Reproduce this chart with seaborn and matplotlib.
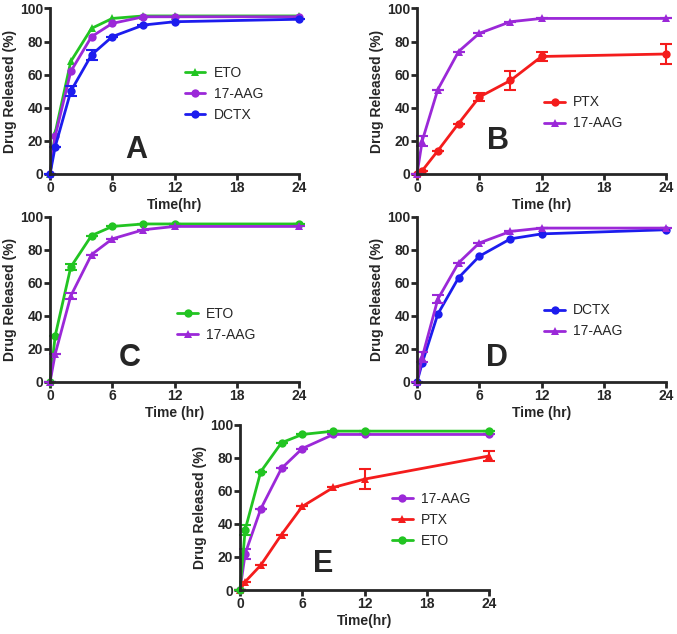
import matplotlib
matplotlib.use("Agg")
import matplotlib.pyplot as plt
import seaborn as sns

# --- DATA ---
TIME = [0, 0.5, 2, 4, 6, 9, 12, 24]

# panel A
A_ETO = [0, 25, 68, 88, 94, 95.5, 95.5, 95.5]
A_AAG = [0, 23, 62, 83, 91, 95, 95, 95]
A_DCTX = [0, 16.5, 50, 72, 83, 90, 92, 93.5]
A_DCTX_ERR = [0, 0, 3, 3, 0, 0, 0, 0]

# panel B
B_PTX = [0, 2, 14, 30.5, 46.5, 56.5, 71, 72.5]
B_PTX_ERR = [0, 0, 0, 0, 2.5, 6, 2.5, 6]
B_AAG = [0, 20, 51, 74, 85, 92, 94, 94]
B_AAG_ERR = [0, 3, 0, 0, 0, 0, 0, 0]

# panel C
C_ETO = [0, 28, 69.5, 88.5, 94, 95.5, 95.5, 95.5]
C_ETO_ERR = [0, 0, 2, 0, 0, 0, 0, 0]
C_AAG = [0, 17, 52, 77, 86.5, 92, 94, 94]
C_AAG_ERR = [0, 0, 2, 0, 0, 0, 0, 0]

# panel D
D_DCTX = [0, 11.5, 41, 63, 76, 86.5, 89.5, 92]
D_AAG = [0, 15, 50, 72, 84, 91, 93, 93]
D_AAG_ERR = [0, 3, 2.5, 0, 0, 0, 0, 0]

# panel E
E_AAG = [0, 22, 49, 73.5, 85.5, 94, 94, 94]
E_AAG_ERR = [0, 3, 0, 0, 0, 0, 0, 0]
E_PTX = [0, 5, 15, 33.5, 50.5, 62, 67, 81]
E_PTX_ERR = [0, 0, 0, 0, 0, 0, 6, 3]
E_ETO = [0, 36.5, 71.5, 89, 94, 96, 96, 96]
E_ETO_ERR = [0, 3, 0, 0, 0, 0, 0, 0]

GREEN = "#22c422"
PURPLE = "#9b28d8"
BLUE = "#1c1cee"
RED = "#f41c1c"

sns.set_style("ticks")
plt.rcParams['font.family'] = ['Liberation Sans', 'DejaVu Sans']
plt.rcParams['font.weight'] = 'bold'

fig = plt.figure(figsize=(6.77, 6.34), dpi=100)

W, H = 0.368, 0.261
panels = {
    "A": [0.0739, 0.7256, W, H],
    "B": [0.616, 0.7256, W, H],
    "C": [0.0739, 0.3975, W, H],
    "D": [0.616, 0.3975, W, H],
    "E": [0.3545, 0.0694, W, H],
}


def draw(ax, series, xlabel, letter, letter_pos, leg_pos):
    for name, vals, err, color, marker in series:
        sns.lineplot(x=TIME, y=vals, ax=ax, color=color, marker=marker,
                     markersize=6, linewidth=2, markeredgewidth=0,
                     label=name, clip_on=False)
        if err is not None:
            ax.errorbar(TIME, vals, yerr=err, fmt="none", ecolor=color,
                        elinewidth=1.5, capsize=4, capthick=1.5, clip_on=False)
    ax.set_xlim(0, 24)
    ax.set_ylim(0, 100)
    ax.set_xticks([0, 6, 12, 18, 24])
    ax.set_yticks([0, 20, 40, 60, 80, 100])
    ax.set_xlabel(xlabel, fontsize=10, fontweight="bold", labelpad=2)
    ax.set_ylabel("Drug Released (%)", fontsize=10, fontweight="bold", labelpad=2)
    ax.tick_params(width=2, length=4, labelsize=10, pad=1)
    for lab in ax.get_xticklabels() + ax.get_yticklabels():
        lab.set_fontweight("bold")
    sns.despine(ax=ax)
    for s in ["left", "bottom"]:
        ax.spines[s].set_linewidth(2)
    ax.text(letter_pos[0], letter_pos[1], letter, transform=ax.transAxes,
            fontsize=22, fontweight="bold", ha="center", va="center")
    ax.legend(loc="upper left", bbox_to_anchor=leg_pos, frameon=False,
              handlelength=1.5, handletextpad=0.6, labelspacing=0.5,
              prop={"weight": "normal", "size": 10})


ax = fig.add_axes(panels["A"])
draw(ax, [("ETO", A_ETO, None, GREEN, "^"),
          ("17-AAG", A_AAG, None, PURPLE, "o"),
          ("DCTX", A_DCTX, A_DCTX_ERR, BLUE, "o")],
     "Time(hr)", "A", (0.345, 0.145), (0.49, 0.73))

ax = fig.add_axes(panels["B"])
draw(ax, [("PTX", B_PTX, B_PTX_ERR, RED, "o"),
          ("17-AAG", B_AAG, B_AAG_ERR, PURPLE, "^")],
     "Time (hr)", "B", (0.325, 0.2), (0.46, 0.55))

ax = fig.add_axes(panels["C"])
draw(ax, [("ETO", C_ETO, C_ETO_ERR, GREEN, "o"),
          ("17-AAG", C_AAG, C_AAG_ERR, PURPLE, "^")],
     "Time (hr)", "C", (0.32, 0.145), (0.46, 0.53))

ax = fig.add_axes(panels["D"])
draw(ax, [("DCTX", D_DCTX, None, BLUE, "o"),
          ("17-AAG", D_AAG, D_AAG_ERR, PURPLE, "^")],
     "Time (hr)", "D", (0.32, 0.145), (0.46, 0.55))

ax = fig.add_axes(panels["E"])
draw(ax, [("17-AAG", E_AAG, E_AAG_ERR, PURPLE, "o"),
          ("PTX", E_PTX, E_PTX_ERR, RED, "^"),
          ("ETO", E_ETO, E_ETO_ERR, GREEN, "o")],
     "Time(hr)", "E", (0.333, 0.16), (0.56, 0.67))

fig.savefig("out.png", dpi=100)
